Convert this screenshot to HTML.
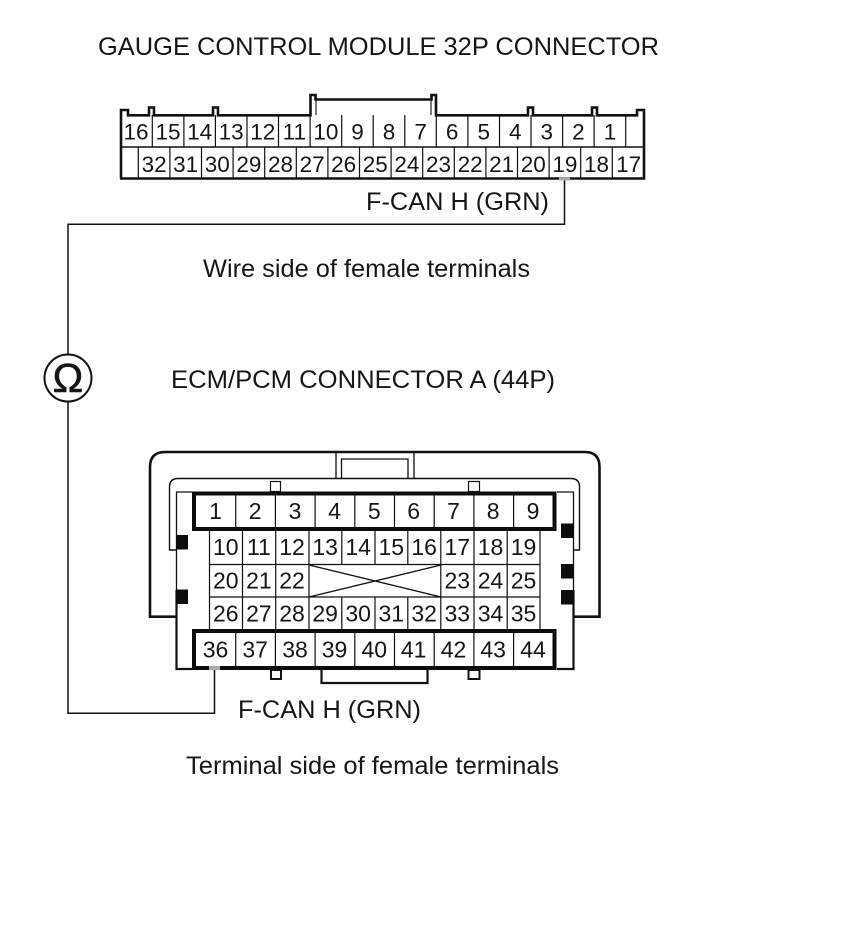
<!DOCTYPE html>
<html>
<head>
<meta charset="utf-8">
<style>
html,body{margin:0;padding:0;background:#fff;width:860px;height:943px;overflow:hidden}
svg{display:block}
text{font-family:"Liberation Sans",Arial,sans-serif;fill:#161616}
.t{font-size:25.3px}
.a{font-size:22.5px;text-anchor:middle}
.b{font-size:23px;text-anchor:middle}
.k{fill:none;stroke:#111}
</style>
</head>
<body>
<svg width="860" height="943" viewBox="0 0 860 943" xmlns="http://www.w3.org/2000/svg">
<rect width="860" height="943" fill="#fff"/>

<!-- titles -->
<text class="t" x="98" y="55" textLength="561" lengthAdjust="spacingAndGlyphs">GAUGE CONTROL MODULE 32P CONNECTOR</text>
<text class="t" x="366" y="210" textLength="183" lengthAdjust="spacingAndGlyphs">F-CAN H (GRN)</text>
<text class="t" x="203" y="277" textLength="327" lengthAdjust="spacingAndGlyphs">Wire side of female terminals</text>
<text class="t" x="171" y="388" textLength="384" lengthAdjust="spacingAndGlyphs">ECM/PCM CONNECTOR A (44P)</text>
<text class="t" x="238" y="718" textLength="183" lengthAdjust="spacingAndGlyphs">F-CAN H (GRN)</text>
<text class="t" x="186" y="774" textLength="373" lengthAdjust="spacingAndGlyphs">Terminal side of female terminals</text>

<!-- top connector -->
<path class="k" stroke-width="1.2" d="M152.3 115V147M183.9 115V147M215.4 115V147M247 115V147M278.5 115V147M310.1 115V147M341.7 115V147M373.2 115V147M404.8 115V147M436.3 115V147M467.9 115V147M499.5 115V147M531 115V147M562.6 115V147M594.1 115V147M625.7 115V147"/>
<path class="k" stroke-width="1.2" d="M138.3 147V178M169.9 147V178M201.5 147V178M233.1 147V178M264.7 147V178M296.3 147V178M327.9 147V178M359.5 147V178M391.1 147V178M422.7 147V178M454.3 147V178M485.9 147V178M517.5 147V178M549.1 147V178M580.7 147V178M612.3 147V178"/>
<path class="k" stroke-width="1.4" d="M120 147H645"/>
<path class="k" stroke-width="2.6" d="M121 178.5V110H128V115.3H149V107.5H154V115.3H213V107.5H218V115.3H310.5V95H315.5V99.5H431.5V95H436V115.3H528V107.5H533V115.3H592V107.5H597V115.3H637V110H644V178.5H120"/>
<path class="k" stroke-width="1.1" d="M316 100V115M431 100V115"/>

<text class="a" x="136" y="139.5">16</text><text class="a" x="168" y="139.5">15</text><text class="a" x="199.6" y="139.5">14</text><text class="a" x="231.2" y="139.5">13</text><text class="a" x="262.8" y="139.5">12</text><text class="a" x="294.3" y="139.5">11</text><text class="a" x="325.9" y="139.5">10</text><text class="a" x="357.5" y="139.5">9</text><text class="a" x="389" y="139.5">8</text><text class="a" x="420.6" y="139.5">7</text><text class="a" x="452.1" y="139.5">6</text><text class="a" x="483.7" y="139.5">5</text><text class="a" x="515.3" y="139.5">4</text><text class="a" x="546.8" y="139.5">3</text><text class="a" x="578.4" y="139.5">2</text><text class="a" x="610" y="139.5">1</text>
<text class="a" x="154.1" y="172">32</text><text class="a" x="185.7" y="172">31</text><text class="a" x="217.3" y="172">30</text><text class="a" x="248.9" y="172">29</text><text class="a" x="280.5" y="172">28</text><text class="a" x="312.1" y="172">27</text><text class="a" x="343.7" y="172">26</text><text class="a" x="375.3" y="172">25</text><text class="a" x="406.9" y="172">24</text><text class="a" x="438.5" y="172">23</text><text class="a" x="470.1" y="172">22</text><text class="a" x="501.7" y="172">21</text><text class="a" x="533.3" y="172">20</text><text class="a" x="564.9" y="172">19</text><text class="a" x="596.5" y="172">18</text><text class="a" x="628.7" y="172">17</text>

<!-- wire -->
<path class="k" stroke-width="1.5" d="M564.5 180V224.3H68V354M68 402V713.3H214.5V668"/>
<circle class="k" cx="68" cy="378" r="23.5" stroke-width="2"/>
<text x="68" y="392" style="font-size:41px;text-anchor:middle;stroke:#161616;stroke-width:.6">Ω</text>

<!-- bottom connector shell -->
<path class="k" stroke-width="2.6" d="M177 616.7H150V467Q150 452 165 452H585Q599.5 452 599.5 467V616.7H573"/>
<path class="k" stroke-width="1.3" d="M336 452V478M341.5 478V459H408V478M414 452V478"/>
<path class="k" stroke-width="1.4" d="M176 550H169.5V487Q169.5 478.5 178 478.5H571Q579.5 478.5 579.5 487V550H573"/>
<path class="k" stroke-width="1.3" d="M192 492H176.5V590M557 492H573.5V590"/>
<path class="k" stroke-width="2.2" d="M176.5 590V669H192M557 669H573.5V590"/>
<rect x="270.5" y="481.5" width="10" height="10" fill="#fff" stroke="#111" stroke-width="1.2"/>
<rect x="468.5" y="481.5" width="11" height="10" fill="#fff" stroke="#111" stroke-width="1.2"/>
<rect x="271" y="670" width="10" height="9" fill="#fff" stroke="#111" stroke-width="2"/>
<rect x="468.5" y="670" width="11" height="9" fill="#fff" stroke="#111" stroke-width="2"/>
<path class="k" stroke-width="2.2" d="M321.5 670V683H427.5V670"/>

<rect x="176" y="535" width="12" height="14.5" fill="#0c0c0c"/>
<rect x="176" y="589.5" width="12" height="14.5" fill="#0c0c0c"/>
<rect x="561" y="523.5" width="12.5" height="14.5" fill="#0c0c0c"/>
<rect x="561" y="564" width="12.5" height="14.5" fill="#0c0c0c"/>
<rect x="561" y="590" width="12.5" height="14.5" fill="#0c0c0c"/>

<!-- middle grid -->
<path class="k" stroke-width="1.2" d="M209.5 531V629M242.5 531V629M275.7 531V629M309 531V629M341.8 531V564M341.8 597V629M375 531V564M375 597V629M407.8 531V564M407.8 597V629M440.8 531V629M474 531V629M507.2 531V629M540 531V629"/>
<path class="k" stroke-width="1.3" d="M209.5 564.5H540M209.5 597H540M309 565L441 597M441 565L309 597"/>

<!-- heavy frames -->
<rect x="194" y="493.5" width="360.5" height="35.5" fill="#fff" stroke="#0c0c0c" stroke-width="4"/>
<rect x="194" y="631" width="360.5" height="37" fill="#fff" stroke="#0c0c0c" stroke-width="4"/>
<rect x="209" y="666" width="11" height="4" fill="#aaa"/>
<rect x="559" y="177.5" width="11" height="3" fill="#aaa"/>
<path class="k" stroke-width="1.2" d="M235.7 495V527M275.4 495V527M315.1 495V527M354.8 495V527M394.5 495V527M434.2 495V527M473.9 495V527M513.6 495V527"/>
<path class="k" stroke-width="1.2" d="M235.7 633V666M275.4 633V666M315.1 633V666M354.8 633V666M394.5 633V666M434.2 633V666M473.9 633V666M513.6 633V666"/>

<text class="b" x="215.5" y="519">1</text><text class="b" x="255.2" y="519">2</text><text class="b" x="295" y="519">3</text><text class="b" x="334.5" y="519">4</text><text class="b" x="374.3" y="519">5</text><text class="b" x="413.7" y="519">6</text><text class="b" x="453.5" y="519">7</text><text class="b" x="493.2" y="519">8</text><text class="b" x="533" y="519">9</text>
<text class="b" x="225.8" y="555">10</text><text class="b" x="258.9" y="555">11</text><text class="b" x="292" y="555">12</text><text class="b" x="325.2" y="555">13</text><text class="b" x="358.2" y="555">14</text><text class="b" x="391.3" y="555">15</text><text class="b" x="424.2" y="555">16</text><text class="b" x="457.3" y="555">17</text><text class="b" x="490.5" y="555">18</text><text class="b" x="523.5" y="555">19</text>
<text class="b" x="225.8" y="588.5">20</text><text class="b" x="258.9" y="588.5">21</text><text class="b" x="292" y="588.5">22</text><text class="b" x="457.3" y="588.5">23</text><text class="b" x="490.5" y="588.5">24</text><text class="b" x="523.5" y="588.5">25</text>
<text class="b" x="225.8" y="621.7">26</text><text class="b" x="258.9" y="621.7">27</text><text class="b" x="292" y="621.7">28</text><text class="b" x="325.2" y="621.7">29</text><text class="b" x="358.2" y="621.7">30</text><text class="b" x="391.3" y="621.7">31</text><text class="b" x="424.2" y="621.7">32</text><text class="b" x="457.3" y="621.7">33</text><text class="b" x="490.5" y="621.7">34</text><text class="b" x="523.5" y="621.7">35</text>
<text class="b" x="215.5" y="657.5">36</text><text class="b" x="255.2" y="657.5">37</text><text class="b" x="295" y="657.5">38</text><text class="b" x="334.5" y="657.5">39</text><text class="b" x="374.3" y="657.5">40</text><text class="b" x="413.7" y="657.5">41</text><text class="b" x="453.5" y="657.5">42</text><text class="b" x="493.2" y="657.5">43</text><text class="b" x="533" y="657.5">44</text>
</svg>
</body>
</html>
